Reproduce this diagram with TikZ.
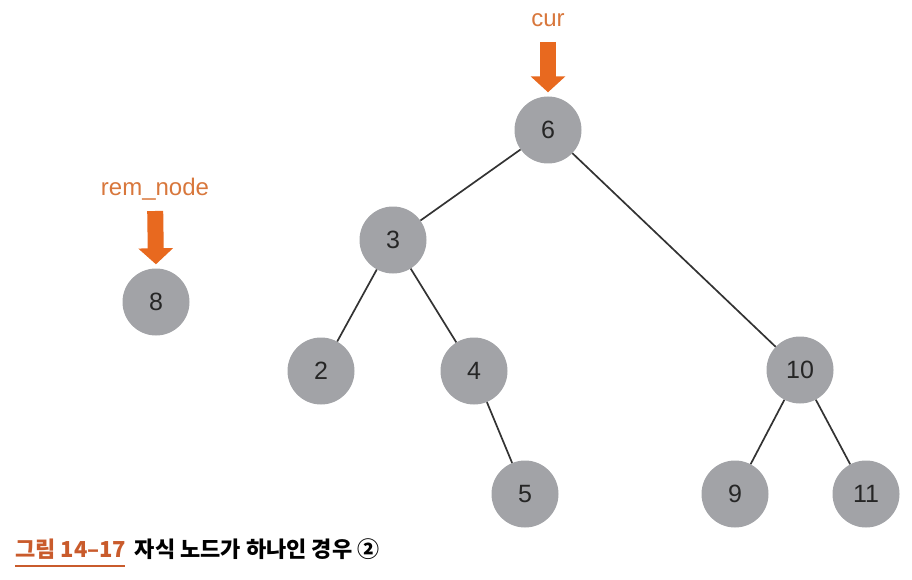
\documentclass[tikz,border=0pt]{standalone}
\usepackage{fontspec}
\setmainfont{Liberation Sans}
\newfontfamily\cjk{Noto Sans CJK KR}
\usetikzlibrary{arrows.meta}
\definecolor{nodegray}{HTML}{A2A3A7}
\definecolor{ptrorange}{HTML}{E8691F}
\definecolor{lblorange}{HTML}{D8773C}
\definecolor{capred}{HTML}{C95B2C}
\begin{document}
\begin{tikzpicture}[
        x=1pt,y=-1pt,
        bst/.style={circle,fill=nodegray,minimum size=67pt,inner sep=0pt,text=black!85,font=\fontsize{25}{25}\selectfont},
        ptrlbl/.style={text=lblorange,font=\fontsize{24}{24}\selectfont,inner sep=0pt},
        ptr/.style={ptrorange,line width=16pt,-{Triangle[width=34pt,length=16pt]},shorten <=15pt,shorten >=4pt},
        edge/.style={draw=black!80,line width=1.7pt},
      ]
      \useasboundingbox (0,0) rectangle (912,580);
      % tree nodes
      \node[bst] (n6) at (548,130) {6};
      \node[bst] (n3) at (393,240) {3};
      \node[bst] (n10) at (800,370) {10};
      \node[bst] (n2) at (321,371) {2};
      \node[bst] (n4) at (474,371) {4};
      \node[bst] (n5) at (525,494) {5};
      \node[bst] (n9) at (735,494) {9};
      \node[bst] (n11) at (866,494) {11};
      % removed node
      \node[bst] (n8) at (156,302) {8};
      % edges
      \draw[edge] (n6) -- (n3);
      \draw[edge] (n6) -- (n10);
      \draw[edge] (n3) -- (n2);
      \draw[edge] (n3) -- (n4);
      \draw[edge] (n4) -- (n5);
      \draw[edge] (n10) -- (n9);
      \draw[edge] (n10) -- (n11);
      % pointers
      \node[ptrlbl,anchor=base] (cur) at (548,27) {cur};
      \node[ptrlbl,anchor=base] (rem) at (155,196) {rem\_node};
      \draw[ptr] (cur.base) -- (n6.north);
      \draw[ptr] (rem.base) -- (n8.north);
      % caption
      \node[anchor=base west,inner sep=0pt,text=capred,font=\cjk\bfseries\fontsize{22}{22}\selectfont] (cap) at (15,557) {그림 14–17};
      \node[anchor=base west,inner sep=0pt,font=\cjk\bfseries\fontsize{22}{22}\selectfont] (captxt) at (cap.base east) {\hspace{8pt}자식 노드가 하나인 경우 ②};
      \draw[capred,line width=2.5pt] (15,566) -- (125,566);
    \end{tikzpicture}
\end{document}
